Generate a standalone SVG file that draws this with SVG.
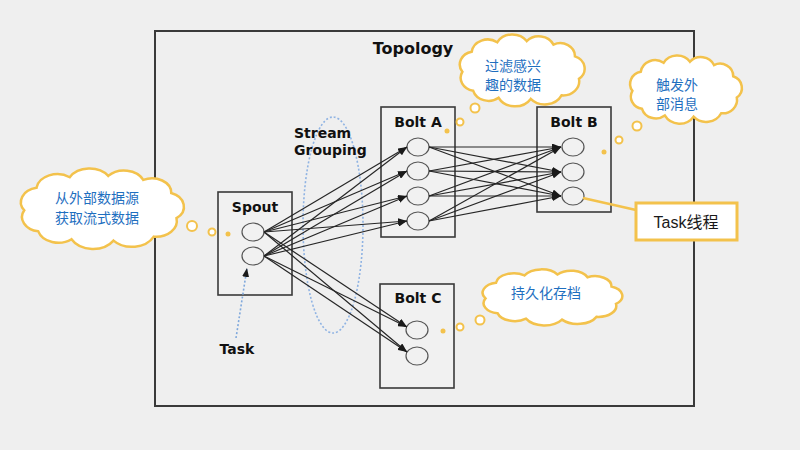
<svg xmlns="http://www.w3.org/2000/svg" xmlns:xlink="http://www.w3.org/1999/xlink" width="800" height="450" viewBox="0 0 800 450">
<defs>
<style>
.bg{fill:#efefef}
.frame{fill:#efefef;stroke:#3a3a3a;stroke-width:2}
.box{fill:#f1f1f1;stroke:#3a3a3a;stroke-width:1.6}
.task{fill:#f1f1f1;stroke:#555;stroke-width:1.2}
.lbl{font-family:"DejaVu Sans",Verdana,sans-serif;font-weight:bold;font-size:14px;fill:#111;text-anchor:middle}
.cn{font-family:"Noto Sans CJK SC","Noto Sans",sans-serif;font-size:14px;fill:#1f6fbf;text-anchor:middle}
.cloud{fill:#ffffff;stroke:#f3c24c;stroke-width:2.5;vector-effect:non-scaling-stroke}
.bub{fill:#ffffff;stroke:#f3c24c;stroke-width:2}
.dot{fill:#f3c24c}
.edge{stroke:#262626;stroke-width:1.2;fill:none;marker-end:url(#ah)}
</style>
<marker id="ah" markerUnits="userSpaceOnUse" markerWidth="9" markerHeight="7" refX="9" refY="3.5" orient="auto">
<path d="M0,0 L9,3.5 L0,7 z" fill="#1a1a1a"/>
</marker>
<path id="cloudshape" class="cloud" d="M7,32 A11,11 0 0 1 14,15 A12,12 0 0 1 33,7 A13,13 0 0 1 55,6 A12,12 0 0 1 75,9 A11,11 0 0 1 91,19 A11,11 0 0 1 94,38 A12,12 0 0 1 81,52 A14,14 0 0 1 58,55 A14,14 0 0 1 34,54 A12,12 0 0 1 15,48 A11,11 0 0 1 7,32 Z"/>
</defs>
<rect class="bg" x="0" y="0" width="800" height="450"/>
<g id="topology">
<rect class="frame" x="155" y="31" width="539" height="375"/>
<text class="lbl" x="413" y="54" style="font-size:16px">Topology</text>
</g>
<g id="stream-grouping">
<ellipse cx="333" cy="225" rx="30" ry="108" fill="none" stroke="#8fb3e3" stroke-width="1.6" stroke-dasharray="2,2"/>
<text class="lbl" x="294" y="138" style="text-anchor:start">Stream</text>
<text class="lbl" x="294" y="155" style="text-anchor:start">Grouping</text>
</g>
<g id="spout">
<rect class="box" x="218" y="192" width="74" height="103"/>
<text class="lbl" x="255" y="212">Spout</text>
<ellipse class="task" cx="253" cy="232" rx="11" ry="9"/>
<ellipse class="task" cx="253" cy="256" rx="11" ry="9"/>
</g>
<g id="bolt-a">
<rect class="box" x="381" y="107" width="74" height="130"/>
<text class="lbl" x="418" y="127">Bolt A</text>
<ellipse class="task" cx="418" cy="147" rx="11" ry="9"/>
<ellipse class="task" cx="418" cy="171" rx="11" ry="9"/>
<ellipse class="task" cx="418" cy="196" rx="11" ry="9"/>
<ellipse class="task" cx="418" cy="221" rx="11" ry="9"/>
</g>
<g id="bolt-b">
<rect class="box" x="537" y="107" width="74" height="105"/>
<text class="lbl" x="574" y="127">Bolt B</text>
<ellipse class="task" cx="573" cy="147" rx="11" ry="9"/>
<ellipse class="task" cx="573" cy="172" rx="11" ry="9"/>
<ellipse class="task" cx="573" cy="196" rx="11" ry="9"/>
</g>
<g id="bolt-c">
<rect class="box" x="380" y="284" width="74" height="104"/>
<text class="lbl" x="418" y="303">Bolt C</text>
<ellipse class="task" cx="417" cy="330" rx="11" ry="9"/>
<ellipse class="task" cx="417" cy="356" rx="11" ry="9"/>
</g>
<g id="connectors">
<line class="edge" x1="264" y1="232" x2="407" y2="147"/>
<line class="edge" x1="264" y1="232" x2="407" y2="171"/>
<line class="edge" x1="264" y1="232" x2="407" y2="196"/>
<line class="edge" x1="264" y1="232" x2="407" y2="221"/>
<line class="edge" x1="264" y1="256" x2="407" y2="147"/>
<line class="edge" x1="264" y1="256" x2="407" y2="171"/>
<line class="edge" x1="264" y1="256" x2="407" y2="196"/>
<line class="edge" x1="264" y1="256" x2="407" y2="221"/>
<line class="edge" x1="264" y1="232" x2="407" y2="327"/>
<line class="edge" x1="264" y1="232" x2="407" y2="352"/>
<line class="edge" x1="264" y1="256" x2="407" y2="327"/>
<line class="edge" x1="264" y1="256" x2="407" y2="352"/>
<line class="edge" x1="429" y1="147" x2="561" y2="147"/>
<line class="edge" x1="429" y1="147" x2="561" y2="172"/>
<line class="edge" x1="429" y1="147" x2="561" y2="196"/>
<line class="edge" x1="429" y1="171" x2="561" y2="147"/>
<line class="edge" x1="429" y1="171" x2="561" y2="172"/>
<line class="edge" x1="429" y1="171" x2="561" y2="196"/>
<line class="edge" x1="429" y1="196" x2="561" y2="147"/>
<line class="edge" x1="429" y1="196" x2="561" y2="172"/>
<line class="edge" x1="429" y1="196" x2="561" y2="196"/>
<line class="edge" x1="429" y1="221" x2="561" y2="147"/>
<line class="edge" x1="429" y1="221" x2="561" y2="172"/>
<line class="edge" x1="429" y1="221" x2="561" y2="196"/>
<line x1="236" y1="338" x2="247" y2="268" stroke="#7fa8dc" stroke-width="1.6" stroke-dasharray="2,2" fill="none" marker-end="url(#ah)"/>
<line x1="583" y1="198" x2="636" y2="210" stroke="#f3c24c" stroke-width="2.5"/>
</g>
<g id="task-label">
<text class="lbl" x="237" y="354">Task</text>
</g>
<g id="task-thread">
<rect x="636" y="203" width="101" height="37" fill="#ffffff" stroke="#f3c24c" stroke-width="3"/>
<text x="686" y="228" style="font-family:'Liberation Sans','Noto Sans CJK SC',sans-serif;font-size:16px;fill:#1a1a1a;text-anchor:middle">Task线程</text>
</g>
<g id="cloud-source">
<use xlink:href="#cloudshape" transform="translate(12,168) scale(1.75,1.32)"/>
<text class="cn" x="97" y="203">从外部数据源</text>
<text class="cn" x="97" y="223">获取流式数据</text>
<circle class="bub" cx="192" cy="226" r="5"/>
<circle class="bub" cx="212" cy="232" r="3.5"/>
<circle class="dot" cx="228" cy="234" r="2.5"/>
</g>
<g id="cloud-filter">
<use xlink:href="#cloudshape" transform="translate(453,34) scale(1.34,1.18)"/>
<text class="cn" x="513" y="71">过滤感兴</text>
<text class="cn" x="513" y="90">趣的数据</text>
<circle class="bub" cx="475" cy="108" r="4.5"/>
<circle class="bub" cx="460" cy="122" r="3.5"/>
<circle class="dot" cx="447" cy="131" r="2.5"/>
</g>
<g id="cloud-trigger">
<use xlink:href="#cloudshape" transform="translate(624,55) scale(1.2,1.12)"/>
<text class="cn" x="677" y="90">触发外</text>
<text class="cn" x="677" y="109">部消息</text>
<circle class="bub" cx="637" cy="126" r="4.5"/>
<circle class="bub" cx="619" cy="140" r="3.5"/>
<circle class="dot" cx="604" cy="152" r="2.5"/>
</g>
<g id="cloud-persist">
<use xlink:href="#cloudshape" transform="translate(475,269) scale(1.5,0.92)"/>
<text class="cn" x="546" y="298">持久化存档</text>
<circle class="bub" cx="480" cy="320" r="4.5"/>
<circle class="bub" cx="460" cy="327" r="3.5"/>
<circle class="dot" cx="443" cy="331" r="2.5"/>
</g>
</svg>
